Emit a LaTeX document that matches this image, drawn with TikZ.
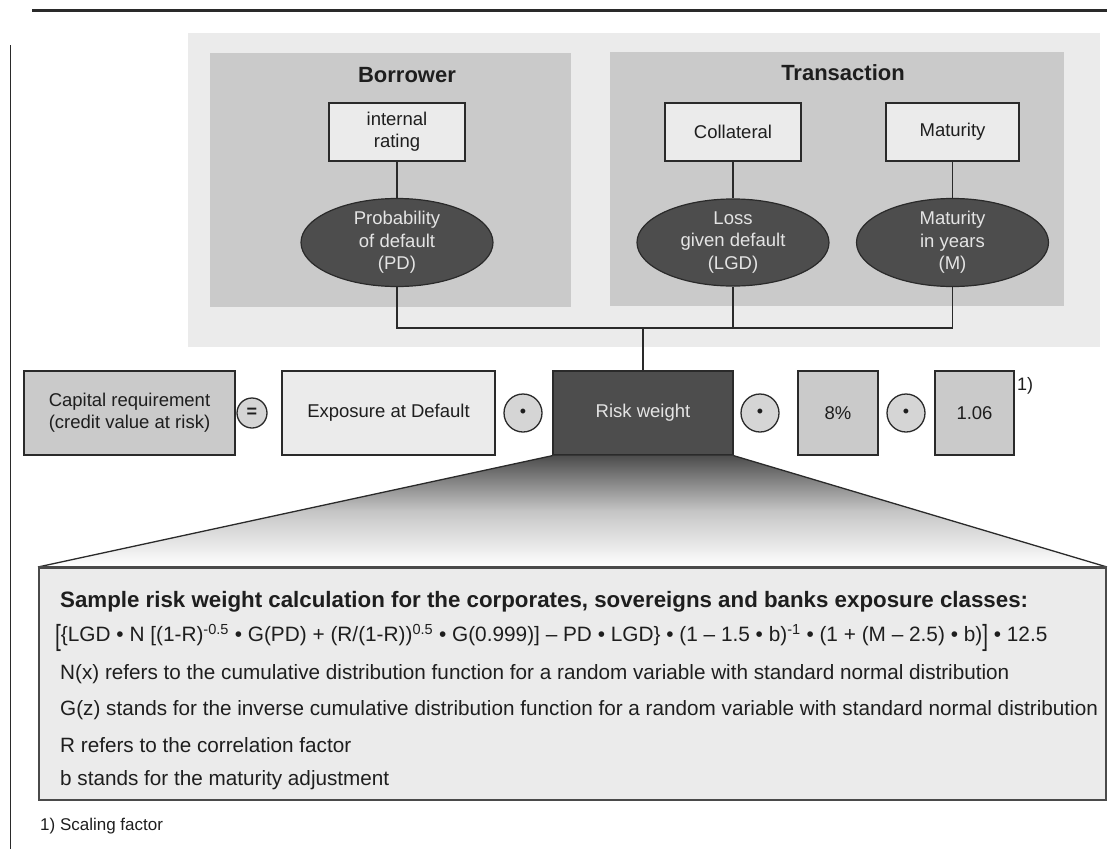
\documentclass[tikz,border=0pt]{standalone}
\usepackage{fontspec}
\setmainfont{Liberation Sans}
\usepackage{graphicx}
\usetikzlibrary{shapes.geometric}

\definecolor{panelL}{HTML}{EBEBEB}
\definecolor{panelM}{HTML}{CACACA}
\definecolor{darkF}{HTML}{4D4D4D}
\definecolor{ink}{HTML}{1E1E1E}
\definecolor{lineC}{HTML}{2A2A2A}
\definecolor{pale}{HTML}{E4E4E4}

\newcommand{\fsz}[2]{\fontsize{#1}{#2}\selectfont}
\newcommand{\tallbr}[1]{\raisebox{-0.2em}{\scalebox{1}[1.4]{#1}}}

\begin{document}
\begin{tikzpicture}[x=1pt,y=-1pt,
  box/.style={draw=lineC, line width=1.3pt, inner sep=0pt, align=center, text=ink, font=\fsz{18.5}{22}},
  lightbox/.style={box, fill=panelL},
  midbox/.style={box, fill=panelM},
  darkbox/.style={box, fill=darkF, text=pale},
  oval/.style={ellipse, draw=lineC, line width=1.2pt, fill=darkF, minimum width=192pt, minimum height=85pt, inner sep=0pt, align=center, text=pale, font=\fsz{18.5}{22.5}},
  op/.style={circle, draw=lineC, line width=1.3pt, fill=panelM!80!white, inner sep=0pt, text=ink, font=\fsz{18}{18}},
  wire/.style={draw=lineC, line width=1.2pt},
  title/.style={font=\bfseries\fsz{22}{26}, text=ink, inner sep=0pt},
  note/.style={anchor=west, font=\fsz{20.7}{24}, text=ink, inner sep=0pt}
]
\useasboundingbox (0,0) rectangle (1120,849);

% page rules
\draw[lineC, line width=3pt] (32,10) -- (1107,10);
\draw[lineC, line width=1pt] (10,45) -- (10,849);

% background panels
\fill[panelL] (188,33) rectangle (1100,347);
\fill[panelM] (210,53) rectangle (571,307);
\fill[panelM] (610,52) rectangle (1064,306);

% panel titles
\node[title] (bor) at (407,75) {Borrower};
\node[title] (tra) at (843,73) {Transaction};

% inputs
\node[lightbox, minimum width=136pt, minimum height=58pt] (rat) at (397,132) {internal\\rating};
\node[lightbox, minimum width=136pt, minimum height=58pt] (col) at (733,132) {Collateral};
\node[lightbox, minimum width=133pt, minimum height=58pt] (mat) at (952.5,132) {Maturity};

% risk parameters
\node[oval] (pd) at (397,242.5) {Probability\\of default\\(PD)};
\node[oval] (lgd) at (733,242.5) {Loss\\given default\\(LGD)};
\node[oval] (mm) at (952.5,242.5) {Maturity\\in years\\(M)};

% capital formula row
\node[midbox, minimum width=211pt, minimum height=84pt] (cap) at (129.5,413) {Capital requirement\\(credit value at risk)};
\node[op, minimum size=30pt] (eq) at (252,413) {\textbf{=}};
\node[lightbox, minimum width=213pt, minimum height=84pt] (ead) at (388.5,413) {Exposure at Default};
\node[op, minimum size=38pt] (m1) at (523,413) {\textbullet};
\node[darkbox, minimum width=180pt, minimum height=84pt] (rw) at (643,413) {Risk weight};
\node[op, minimum size=38pt] (m2) at (760,413) {\textbullet};
\node[midbox, minimum width=80pt, minimum height=84pt] (pct) at (838,413) {8\%};
\node[op, minimum size=38pt] (m3) at (906,413) {\textbullet};
\node[midbox, minimum width=79pt, minimum height=84pt] (fac) at (974.5,413) {1.06};
\node[text=ink, font=\fsz{18}{22}, inner sep=0pt] (fn) at (1025,386) {1)};

% connectors
\coordinate (hub) at (643,328);
\draw[wire] (rat.south) -- (pd.north);
\draw[wire] (col.south) -- (lgd.north);
\draw[wire] (mat.south) -- (mm.north);
\draw[wire] (pd.south) |- (hub) -| (mm.south);
\draw[wire] (lgd.south) -- (lgd.south |- hub);
\draw[wire] (hub) -- (rw.north);

% detail box
\node[draw=lineC!85, line width=2pt, fill=panelL, minimum width=1067pt, minimum height=232pt, inner sep=0pt] (det) at (572.5,684) {};

% funnel from risk weight to detail box
\shade[top color=darkF, bottom color=white, middle color=gray!45] (rw.south west) -- (rw.south east) -- (det.north east) -- (det.north west) -- cycle;
\draw[lineC, line width=1.3pt] (rw.south west) -- (det.north west);
\draw[lineC, line width=1.3pt] (rw.south east) -- (det.north east);
\draw[lineC!85, line width=2pt] (det.north west) -- (det.north east);

% detail text
\node[note, font=\bfseries\fsz{22.3}{26}] (t0) at (60,602) {Sample risk weight calculation for the corporates, sovereigns and banks exposure classes:};
\node[note, font=\fsz{20.8}{24}] (t1) at (55,638) {\tallbr{[}\{LGD • N [(1-R)\textsuperscript{-0.5} • G(PD) + (R/(1-R))\textsuperscript{0.5} • G(0.999)] – PD • LGD\} • (1 – 1.5 • b)\textsuperscript{-1} • (1 + (M – 2.5) • b)\tallbr{]} • 12.5};
\node[note] (t2) at (60,674) {N(x) refers to the cumulative distribution function for a random variable with standard normal distribution};
\node[note] (t3) at (60,710) {G(z) stands for the inverse cumulative distribution function for a random variable with standard normal distribution};
\node[note] (t4) at (60,745) {R refers to the correlation factor};
\node[note] (t5) at (60,780) {b stands for the maturity adjustment};

% footnote
\node[note, font=\fsz{17}{20}] (foot) at (40,826) {1) Scaling factor};
\end{tikzpicture}
\end{document}
